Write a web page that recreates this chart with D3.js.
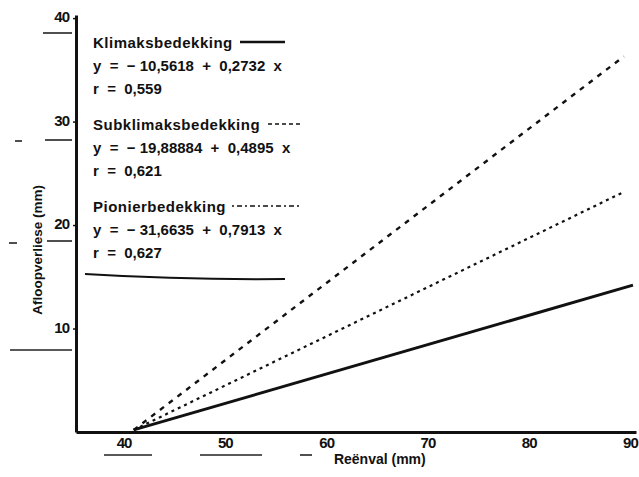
<!DOCTYPE html>
<html>
<head>
<meta charset="utf-8">
<script src="https://cdn.jsdelivr.net/npm/d3@7"></script>
<style>
  body { margin: 0; background: #fff; }
  text { font-family: "Liberation Sans", Arial, sans-serif; fill: #111; }
</style>
</head>
<body>
<div id="chart"></div>
<script>
// Data
const xTicks = [40, 50, 60, 70, 80, 90];
const yTicks = [10, 20, 30, 40];
const seriesNames = ["Klimaksbedekking", "Subklimaksbedekking", "Pionierbedekking"];
const seriesX = [[41, 90.3], [41, 89.4], [41, 89.4]];
const seriesY = [[0.2, 14.2], [0.2, 23.2], [0.2, 36.3]];
const equations = [
  "y  =  \u2212 10,5618  +  0,2732  x",
  "y  =  \u2212 19,88884  +  0,4895  x",
  "y  =  \u2212 31,6635  +  0,7913  x",
];
const rValues = ["r  =  0,559", "r  =  0,621", "r  =  0,627"];

const width = 639;
const height = 477;
const margin = { left: 76, right: 3, top: 15, bottom: 45 };
const dashes = [null, "3,4", "5,6"];
const widths = [3, 2.2, 2.4];

const svg = d3.select("#chart").append("svg")
  .attr("width", width)
  .attr("height", height);

const xScale = d3.scaleLinear().domain([35.3, 90.6]).range([margin.left, width - margin.right]);
const yScale = d3.scaleLinear().domain([0, 40.3]).range([height - margin.bottom, margin.top]);

// axes
const xAxis = svg.append("g")
  .attr("transform", `translate(0, ${yScale(0)})`)
  .call(d3.axisBottom(xScale).tickValues(xTicks).tickSize(0).tickPadding(5).tickSizeOuter(0));
xAxis.select(".domain").attr("stroke", "#111").attr("stroke-width", 3);
xAxis.selectAll("text").attr("font-size", 15).attr("font-weight", "bold").style("letter-spacing", "-1px");

const yAxis = svg.append("g")
  .attr("transform", `translate(${margin.left}, 0)`)
  .call(d3.axisLeft(yScale).tickValues(yTicks).tickSize(3).tickPadding(4).tickSizeOuter(0));
yAxis.select(".domain").attr("stroke", "#111").attr("stroke-width", 3);
yAxis.selectAll(".tick line").attr("stroke", "#111").attr("stroke-width", 1.5);
yAxis.selectAll("text").attr("font-size", 15).attr("font-weight", "bold")
  .attr("dy", "0.25em").style("letter-spacing", "-1px");

svg.append("text")
  .attr("transform", `translate(42, ${yScale(17.6)}) rotate(-90)`)
  .attr("text-anchor", "middle")
  .attr("font-size", 13.5)
  .attr("font-weight", "bold")
  .text("Afloopverliese (mm)");

svg.append("text")
  .attr("x", xScale(65.3))
  .attr("y", 464)
  .attr("text-anchor", "middle")
  .attr("font-size", 14)
  .attr("font-weight", "bold")
  .text("Reënval (mm)");

// regression lines
const line = d3.line().x((d) => xScale(d[0])).y((d) => yScale(d[1]));
svg.append("g").selectAll("path")
  .data(seriesNames)
  .join("path")
  .attr("fill", "none")
  .attr("stroke", "#111")
  .attr("stroke-width", (d, i) => widths[i])
  .attr("stroke-dasharray", (d, i) => dashes[i])
  .attr("d", (d, i) => line(seriesX[i].map((x, j) => [x, seriesY[i][j]])));

// legend
const legend = svg.append("g").attr("transform", "translate(93, 0)");
const groupTop = [48, 130, 212];
const sampleStart = [147, 175, 139];
const sampleEnd = [192, 207, 207];
seriesNames.forEach((name, i) => {
  const g = legend.append("g").attr("transform", `translate(0, ${groupTop[i]})`);
  g.append("text").attr("font-size", 15).attr("font-weight", "bold")
    .style("letter-spacing", "0.5px").text(name);
  g.append("line")
    .attr("x1", sampleStart[i]).attr("x2", sampleEnd[i])
    .attr("y1", -6).attr("y2", -6)
    .attr("stroke", "#111")
    .attr("stroke-width", i === 0 ? 2.5 : 1.5)
    .attr("stroke-dasharray", i === 0 ? null : i === 1 ? "4,3" : "2,3,5,3");
  g.append("text").attr("y", 23).attr("font-size", 15).attr("font-weight", "bold")
    .style("white-space", "pre").text(equations[i]);
  g.append("text").attr("y", 46).attr("font-size", 15).attr("font-weight", "bold")
    .style("white-space", "pre").text(rValues[i]);
});
legend.append("path")
  .attr("d", "M-8,274 Q90,280 192,279")
  .attr("fill", "none").attr("stroke", "#111").attr("stroke-width", 2);

// stray print rules from the scanned page
const rules = svg.append("g").attr("stroke", "#222").attr("stroke-width", 1.6);
[[43, 72, 33], [45, 72, 140], [47, 72, 241], [10, 72, 350], [15, 22, 141], [9, 17, 243],
 [104, 152, 455], [200, 262, 455], [300, 312, 455]]
  .forEach((r) => rules.append("line").attr("x1", r[0]).attr("x2", r[1]).attr("y1", r[2]).attr("y2", r[2]));
</script>
</body>
</html>
